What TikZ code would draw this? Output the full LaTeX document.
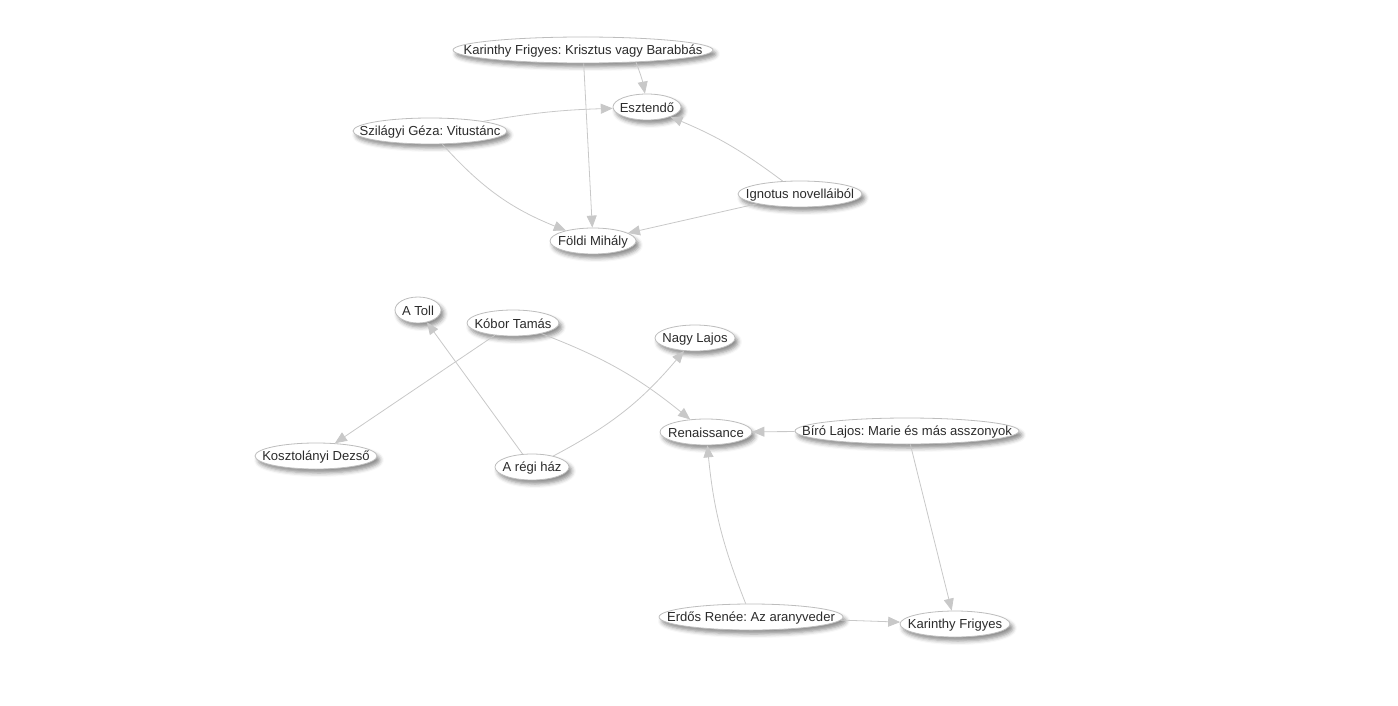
\documentclass[tikz,border=0pt]{standalone}
\usepackage{fontspec}
\setmainfont{Liberation Sans}
\usetikzlibrary{shapes.geometric,arrows.meta,shadows.blur}
\definecolor{edgegray}{HTML}{C8C8C8}
\definecolor{bordergray}{HTML}{BDBDBD}
\definecolor{txt}{HTML}{2B2B2B}
\frenchspacing
\tikzset{
  vnode/.style={ellipse, draw=bordergray, line width=0.6pt, fill=white,
    inner sep=0pt, minimum height=26*0.75pt, minimum width=#1*0.75pt,
    blur shadow={shadow xshift=2.2pt, shadow yshift=-3pt, shadow blur radius=3pt, shadow opacity=45}},
  vtext/.style={text=txt, inner sep=0pt, yshift=-0.8pt, font=\fontsize{9.8pt}{11pt}\selectfont},
  vedge/.style={draw=edgegray, line width=0.6pt,
    -{Triangle[length=9pt,width=7.5pt,fill=edgegray]}}
}
\begin{document}
\begin{tikzpicture}[x=0.75pt,y=-0.75pt]
\useasboundingbox (0,0) rectangle (1398,706);
\node[vnode=260, label={[vtext]center:Karinthy Frigyes: Krisztus vagy Barabbás}] (kfkb) at (583,50) {};
\node[vnode=68, label={[vtext]center:Esztendő}] (eszt) at (647,107) {};
\node[vnode=154, label={[vtext]center:Szilágyi Géza: Vitustánc}] (szil) at (430,131) {};
\node[vnode=124, label={[vtext]center:Ignotus novelláiból}] (ign) at (800,194) {};
\node[vnode=86, label={[vtext]center:Földi Mihály}] (foldi) at (593,241) {};
\node[vnode=46, label={[vtext]center:A Toll}] (toll) at (418,310) {};
\node[vnode=92, label={[vtext]center:Kóbor Tamás}] (kobor) at (513,323) {};
\node[vnode=80, label={[vtext]center:Nagy Lajos}] (nagy) at (695,338) {};
\node[vnode=92, label={[vtext]center:Renaissance}] (ren) at (706,432) {};
\node[vnode=224, label={[vtext]center:Bíró Lajos: Marie és más asszonyok}] (biro) at (907,431) {};
\node[vnode=122, label={[vtext]center:Kosztolányi Dezső}] (koszt) at (316,456) {};
\node[vnode=74, label={[vtext]center:A régi ház}] (regi) at (532,467) {};
\node[vnode=184, label={[vtext]center:Erdős Renée: Az aranyveder}] (erdos) at (751,617) {};
\node[vnode=110, label={[vtext]center:Karinthy Frigyes}] (karf) at (955,624) {};

\path[vedge] (kfkb.-13) to[bend left=5] (eszt);
\path[vedge] (kfkb) -- (foldi);
\path[vedge] (szil) to[bend left=4] (eszt);
\path[vedge] (szil) to[bend right=13] (foldi);
\path[vedge] (ign) to[bend right=7] (eszt);
\path[vedge] (ign) -- (foldi);
\path[vedge] (kobor) -- (koszt);
\path[vedge] (kobor) to[bend left=9] (ren);
\path[vedge] (regi) -- (toll);
\path[vedge] (regi) to[bend right=11] (nagy);
\path[vedge] (biro) -- (ren);
\path[vedge] (biro) -- (karf);
\path[vedge] (erdos) to[bend left=8] (ren);
\path[vedge] (erdos) -- (karf);
\end{tikzpicture}
\end{document}
